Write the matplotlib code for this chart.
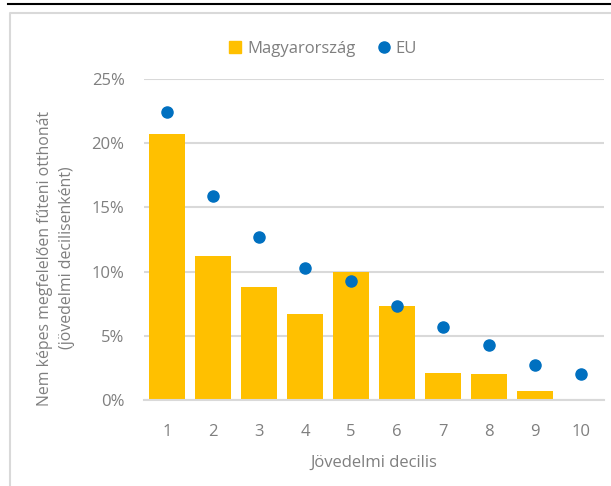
import matplotlib
matplotlib.use("Agg")
import matplotlib.pyplot as plt
from matplotlib.ticker import FuncFormatter
from matplotlib.lines import Line2D

plt.rcParams['font.family'] = ['Open Sans', 'DejaVu Sans']

deciles = [1, 2, 3, 4, 5, 6, 7, 8, 9, 10]
hu_values = [20.7, 11.2, 8.8, 6.7, 9.95, 7.3, 2.1, 2.0, 0.7, 0.0]
eu_values = [22.4, 15.9, 12.7, 10.25, 9.3, 7.3, 5.65, 4.3, 2.7, 2.0]
y_ticks = [0, 5, 10, 15, 20, 25]

ORANGE = '#FFC000'
BLUE = '#0070C0'
GRID = '#D9D9D9'
TXT = '#7F7F7F'

fig = plt.figure(figsize=(6.11, 4.86), dpi=100)
ax = fig.add_axes([144/611, 86/486, 460/611, 321/486])

ax.bar(deciles, hu_values, width=0.78, color=ORANGE, zorder=2)
ax.plot(deciles, eu_values, linestyle='none', marker='o', markersize=8,
        color=BLUE, zorder=3)

ax.set_xlim(0.5, 10.5)
ax.set_ylim(0, 25)
ax.set_yticks(y_ticks)
ax.yaxis.set_major_formatter(FuncFormatter(lambda v, p: f"{int(v)}%"))
ax.set_xticks(deciles)
ax.grid(axis='y', color=GRID, linewidth=1.5, zorder=0)
for s in ['top', 'right', 'left']:
    ax.spines[s].set_visible(False)
ax.spines['bottom'].set_color(GRID)
ax.spines['bottom'].set_linewidth(1.5)
ax.tick_params(axis='both', length=0, labelsize=12, colors=TXT)
ax.tick_params(axis='y', pad=14)
ax.tick_params(axis='x', pad=17)

ax.set_xlabel('Jövedelmi decilis', fontsize=12, color=TXT, labelpad=11)
fig.text(56/611, 1 - 258/486,
         'Nem képes megfelelően fűteni otthonát\n(jövedelmi decilisenként)',
         rotation=90, ha='center', va='center', fontsize=11.4, color=TXT,
         linespacing=1.55)

handles = [
    Line2D([], [], linestyle='none', marker='s', markersize=8, color=ORANGE),
    Line2D([], [], linestyle='none', marker='o', markersize=8, color=BLUE),
]
fig.legend(handles, ['Magyarország', 'EU'], loc='center',
           bbox_to_anchor=(322/611, 1 - 49/486), ncol=2, frameon=False,
           fontsize=12, labelcolor=TXT, handletextpad=0.2, columnspacing=1.2,
           handlelength=1.0)

# frame decorations
fig.add_artist(Line2D([8/611, 1], [1 - 4/486, 1 - 4/486], color='black',
                      linewidth=1.5, transform=fig.transFigure))
fig.add_artist(Line2D([10/611, 10/611, 1], [0, 1 - 13/486, 1 - 13/486],
                      color=GRID, linewidth=1.5, transform=fig.transFigure))

fig.savefig('out.png', dpi=100)
